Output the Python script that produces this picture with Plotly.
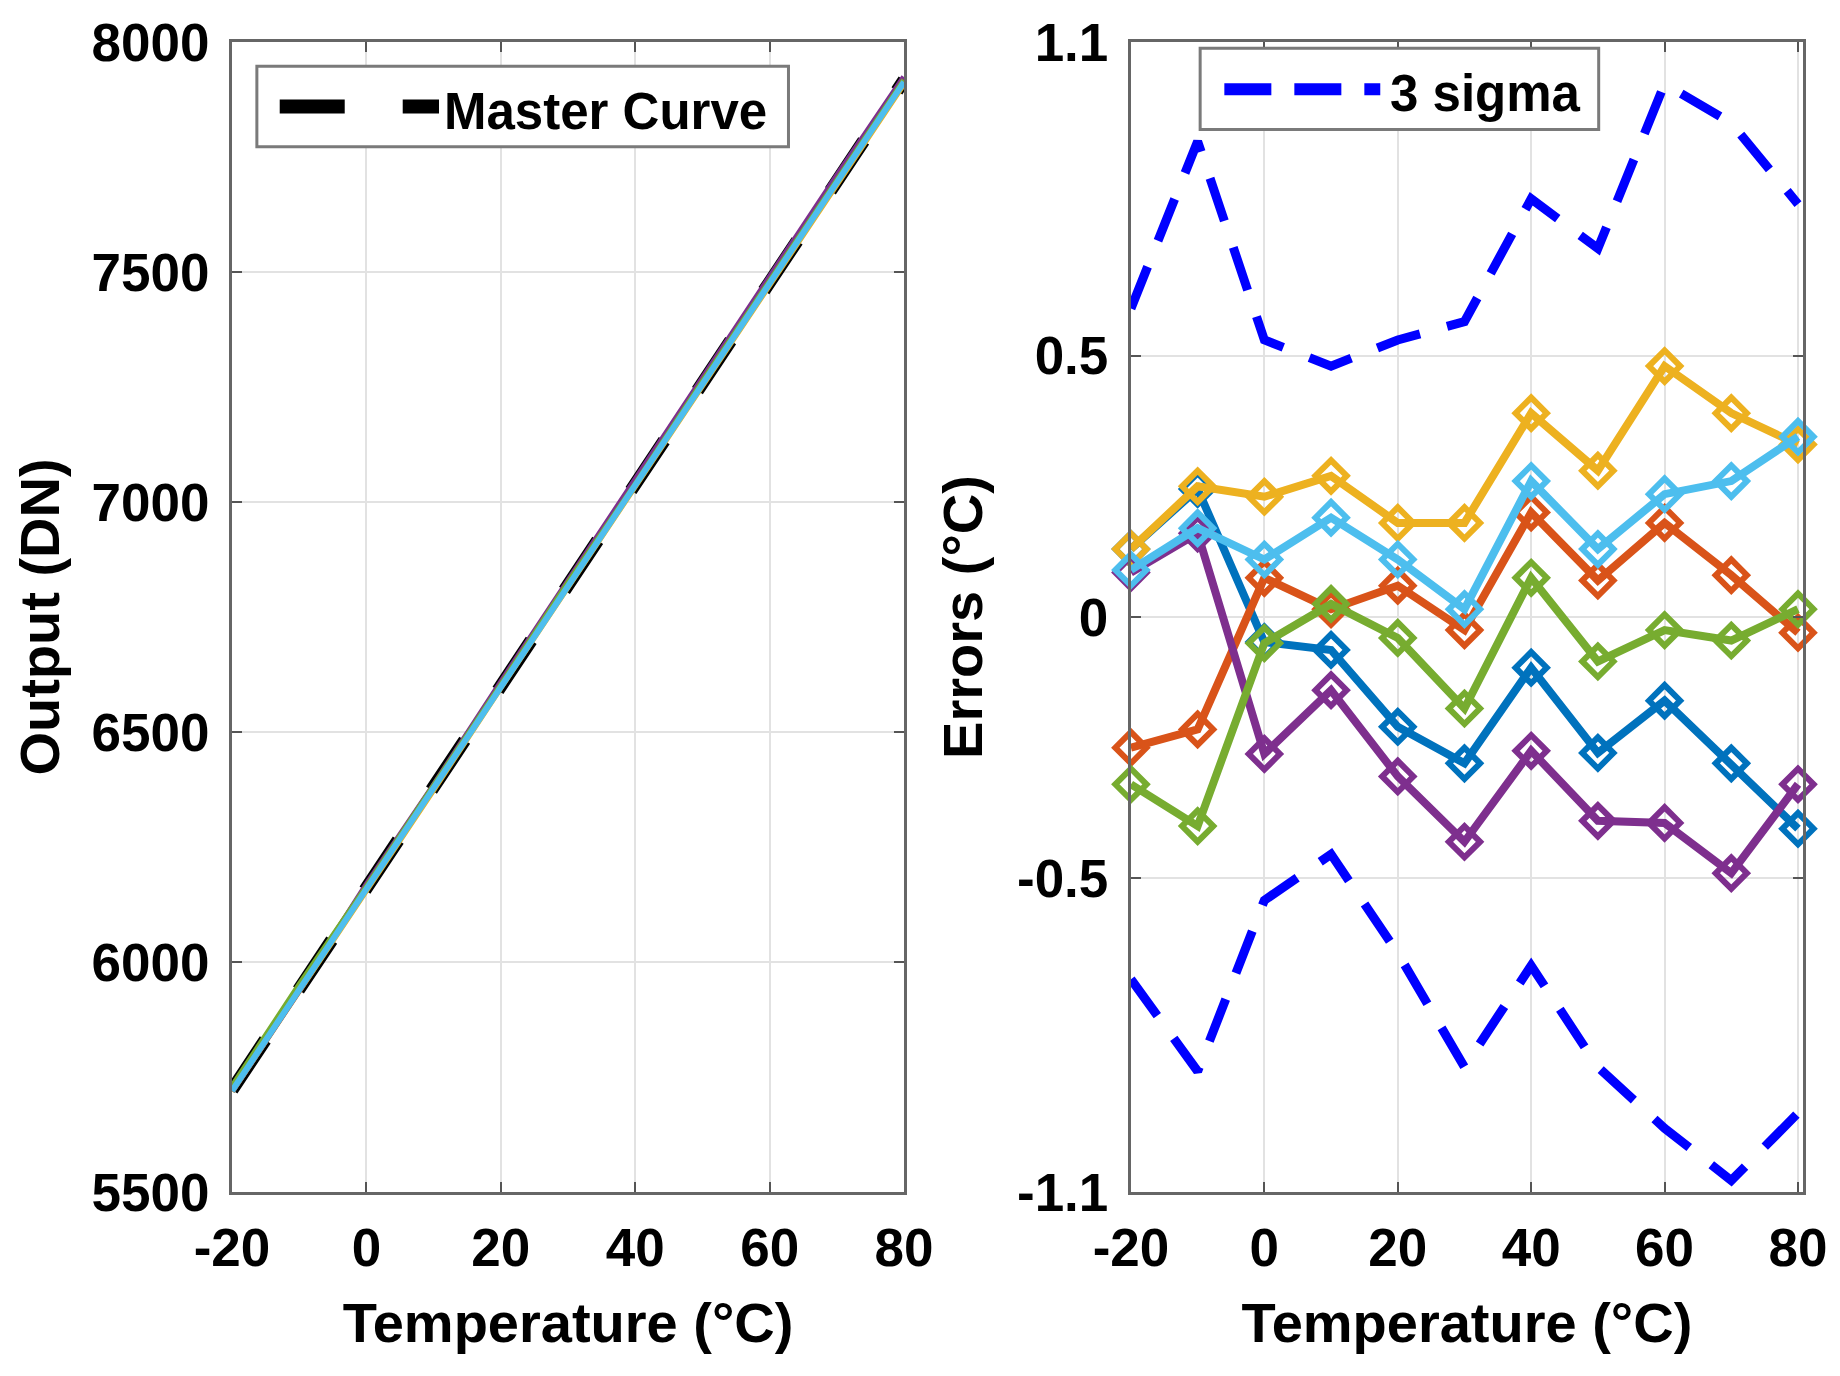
import plotly.graph_objects as go

# --- data ---
temps = [-20, -10, 0, 10, 20, 30, 40, 50, 60, 70, 80]

master_curve = [5722, 5942, 6162, 6381, 6601, 6820, 7040, 7259, 7479, 7698, 7917]
output_s1 = [5719, 5939, 6163, 6382, 6604, 6823, 7042, 7262, 7481, 7701, 7922]
output_s2 = [5727, 5945, 6160, 6380, 6600, 6821, 7037, 7258, 7476, 7697, 7918]
output_s3 = [5719, 5937, 6157, 6375, 6597, 6816, 7032, 7253, 7468, 7690, 7910]
output_s4 = [5720, 5939, 6168, 6384, 6608, 6829, 7046, 7268, 7488, 7709, 7924]
output_s5 = [5729, 5950, 6163, 6380, 6602, 6824, 7038, 7261, 7480, 7699, 7917]
output_s6 = [5720, 5940, 6160, 6379, 6599, 6820, 7037, 7257, 7476, 7695, 7913]

err_s1 = [0.13, 0.245, -0.048, -0.063, -0.21, -0.28, -0.097, -0.26, -0.16, -0.28, -0.405]
err_s2 = [-0.25, -0.215, 0.075, 0.015, 0.06, -0.025, 0.2, 0.07, 0.18, 0.08, -0.03]
err_s3 = [0.13, 0.25, 0.23, 0.27, 0.18, 0.18, 0.39, 0.28, 0.48, 0.39, 0.33]
err_s4 = [0.085, 0.16, -0.262, -0.14, -0.305, -0.43, -0.256, -0.39, -0.394, -0.49, -0.32]
err_s5 = [-0.32, -0.40, -0.05, 0.025, -0.04, -0.175, 0.075, -0.085, -0.025, -0.045, 0.015]
err_s6 = [0.09, 0.17, 0.11, 0.19, 0.11, 0.015, 0.26, 0.13, 0.235, 0.26, 0.345]

sigma_upper = [0.59, 0.91, 0.53, 0.48, 0.53, 0.565, 0.80, 0.705, 1.02, 0.945, 0.79]
sigma_lower = [-0.693, -0.869, -0.542, -0.454, -0.643, -0.861, -0.667, -0.861, -0.978, -1.078, -0.949]

x_ticks = [-20, 0, 20, 40, 60, 80]
x_ticktext = ["-20", "0", "20", "40", "60", "80"]
out_ticks = [5500, 6000, 6500, 7000, 7500, 8000]
out_ticktext = ["5500", "6000", "6500", "7000", "7500", "8000"]
err_ticks = [-1.1, -0.5, 0, 0.5, 1.1]
err_ticktext = ["-1.1", "-0.5", "0", "0.5", "1.1"]

colors = ["#0072BD", "#D95319", "#EDB120", "#7E2F8E", "#77AC30", "#4DBEEE"]
outputs = [output_s1, output_s2, output_s3, output_s4, output_s5, output_s6]
errors = [err_s1, err_s2, err_s3, err_s4, err_s5, err_s6]

FONT = "Liberation Sans, Arial, sans-serif"

fig = go.Figure()

# --- left: output vs temperature ---
fig.add_trace(go.Scatter(
    x=temps, y=master_curve, mode="lines", name="Master Curve",
    line=dict(color="black", width=13, dash="60px,60px"),
    xaxis="x", yaxis="y", showlegend=False
))
for vals, c in zip(outputs, colors):
    fig.add_trace(go.Scatter(
        x=temps, y=vals, mode="lines",
        line=dict(color=c, width=6),
        xaxis="x", yaxis="y", showlegend=False
    ))

# --- right: errors vs temperature ---
for band in (sigma_upper, sigma_lower):
    fig.add_trace(go.Scatter(
        x=temps, y=band, mode="lines", name="3 sigma",
        line=dict(color="#0000FF", width=9, dash="45px,28px"),
        xaxis="x2", yaxis="y2", showlegend=False
    ))
for vals, c in zip(errors, colors):
    fig.add_trace(go.Scatter(
        x=temps, y=vals, mode="lines+markers", cliponaxis=False,
        line=dict(color=c, width=8),
        marker=dict(symbol="diamond-open", size=24, color=c, line=dict(color=c, width=6)),
        xaxis="x2", yaxis="y2", showlegend=False
    ))

axis_style = dict(
    showline=True, linecolor="#666666", linewidth=3, mirror="ticks",
    ticks="inside", ticklen=10, tickwidth=2, tickcolor="#555555",
    showgrid=True, gridcolor="#e2e2e2", gridwidth=2, zeroline=False,
    tickmode="array", automargin=False,
    tickfont=dict(family=FONT, size=53, color="black", weight="bold"),
)

# page body has an 8px margin, so the figure is 16px smaller than the window
fig.update_layout(
    width=1824, height=1360,
    paper_bgcolor="white", plot_bgcolor="white",
    margin=dict(l=224, r=29, t=34, b=176),
    font=dict(family=FONT, color="black", weight="bold"),
    xaxis=dict(axis_style, domain=[0, 0.4278], range=[-20, 80],
               tickvals=x_ticks, ticktext=x_ticktext, ticklabelstandoff=7,
               title=dict(text="Temperature (°C)", font=dict(size=56, weight="bold"), standoff=28)),
    yaxis=dict(axis_style, range=[5500, 8000],
               tickvals=out_ticks, ticktext=out_ticktext, ticklabelstandoff=9,
               title=dict(text="Output (DN)", font=dict(size=56, weight="bold"), standoff=22)),
    xaxis2=dict(axis_style, domain=[0.5722, 1], range=[-20, 80.75], anchor="y2",
                tickvals=x_ticks, ticktext=x_ticktext, ticklabelstandoff=7,
                title=dict(text="Temperature (°C)", font=dict(size=56, weight="bold"), standoff=28)),
    yaxis2=dict(axis_style, range=[-1.1, 1.1], anchor="x2",
                tickvals=err_ticks, ticktext=err_ticktext, ticklabelstandoff=9,
                title=dict(text="Errors (°C)", font=dict(size=56, weight="bold"), standoff=17)),
)

# --- legends drawn like the MATLAB boxes ---
legend_box = dict(type="rect", line=dict(color="#7a7a7a", width=3), fillcolor="white", layer="above")
fig.add_shape(legend_box, xref="x domain", yref="y domain", x0=0.037, x1=0.828, y0=0.909, y1=0.979)
fig.add_shape(type="line", xref="x domain", yref="y domain", x0=0.071, x1=0.308, y0=0.944, y1=0.944,
              line=dict(color="black", width=14, dash="65px,58px"))
fig.add_annotation(xref="x domain", yref="y domain", x=0.313, y=0.940, text="Master Curve",
                   showarrow=False, xanchor="left", yanchor="middle",
                   font=dict(family=FONT, size=51, color="black", weight="bold"))

fig.add_shape(legend_box, xref="x2 domain", yref="y2 domain", x0=0.103, x1=0.696, y0=0.924, y1=0.9945)
fig.add_shape(type="line", xref="x2 domain", yref="y2 domain", x0=0.139, x1=0.371, y0=0.959, y1=0.959,
              line=dict(color="#0000FF", width=12, dash="47px,23px"))
fig.add_annotation(xref="x2 domain", yref="y2 domain", x=0.383, y=0.955, text="3 sigma",
                   showarrow=False, xanchor="left", yanchor="middle",
                   font=dict(family=FONT, size=51, color="black", weight="bold"))

fig.write_html("out.html")
